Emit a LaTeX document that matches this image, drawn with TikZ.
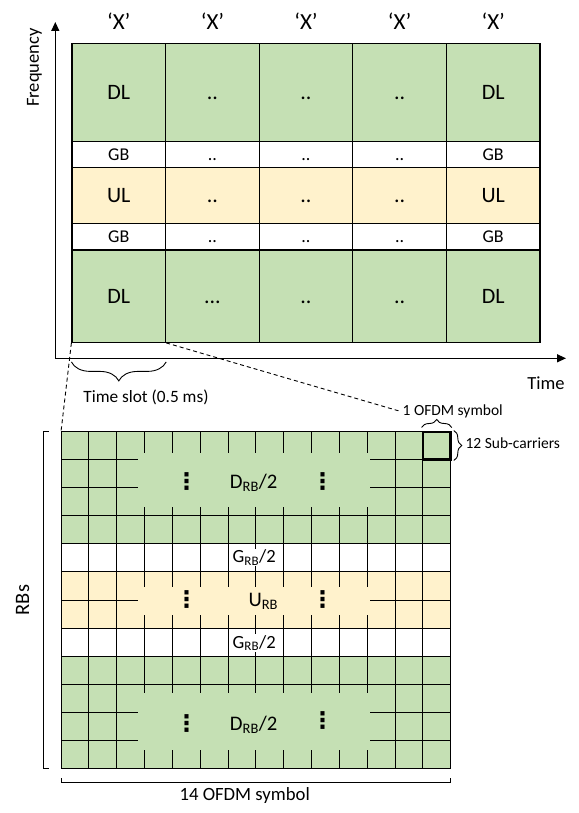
\documentclass[tikz,border=0pt]{standalone}
\usepackage{fontspec}
\setmainfont{Carlito}
\newfontfamily\dejavu{DejaVu Sans}
\usepackage{tikz}
\usetikzlibrary{positioning, calc, arrows.meta, decorations.pathreplacing}

\definecolor{dlgreen}{HTML}{C5E0B4}
\definecolor{ulyellow}{HTML}{FFF2CC}
\newcommand{\tridot}{...}

\begin{document}
\begin{tikzpicture}[
    x=1pt, y=-1pt,
    cell/.style={rectangle, draw, line width=1.2pt, minimum width=93.6pt, inner sep=0pt, font={\fontsize{22}{26}\selectfont}},
    gbcell/.style={cell, fill=white, font={\fontsize{18}{22}\selectfont}},
    xlab/.style={font={\fontsize{23}{27}\selectfont}},
    axis/.style={-{Triangle[length=9pt, width=8pt]}, line width=1.3pt},
    axlab/.style={font={\fontsize{18.5}{22}\selectfont}},
    brc/.style={decorate, decoration={brace, amplitude=#1}, line width=0.9pt},
    zoomline/.style={dashed, dash pattern=on 4pt off 3pt, line width=0.9pt},
    gridline/.style={line width=1pt},
    bracket/.style={line width=0.9pt},
    rblab/.style={font={\fontsize{20.7}{24}\selectfont}, anchor=base},
    glab/.style={font={\fontsize{18.6}{22}\selectfont}, anchor=base, fill=white, inner sep=1pt},
    vdot/.style={font={\dejavu\bfseries\fontsize{23}{26}\selectfont}, inner sep=0pt},
    small/.style={font={\fontsize{15.5}{18}\selectfont}}
]
    \useasboundingbox (0,0) rectangle (578,813);

    % frame grid (one time slot per column)
    \foreach \dl/\gb/\ul/\gc/\dm [count=\i] in {DL/GB/UL/GB/DL, ../../../../\tridot, ../../../../.., ../../../../.., DL/GB/UL/GB/DL} {
        \pgfmathsetmacro{\cx}{72+93.6*(\i-0.5)}
        \node[cell, fill=dlgreen, minimum height=98.4pt] (dlt\i) at (\cx,92.5) {\vphantom{D}\dl};
        \node[gbcell, minimum height=26pt] (gbt\i) at (\cx,154.7) {\vphantom{G}\gb};
        \node[cell, fill=ulyellow, minimum height=55.6pt] (ul\i) at (\cx,195.5) {\vphantom{U}\ul};
        \node[gbcell, minimum height=26.7pt] (gbb\i) at (\cx,236.65) {\vphantom{G}\gc};
        \node[cell, fill=dlgreen, minimum height=92.3pt] (dlb\i) at (\cx,296.15) {\vphantom{D}\dm};
        \node[xlab] (x\i) at (\cx,21.5) {‘X’};
    }

    \coordinate (orig) at (55.3,358.3);
    \coordinate (ftop) at (55.3,22);
    \coordinate (tend) at (566,358.3);
    \draw[axis] (orig) -- (ftop);
    \draw[axis] (orig) -- (tend);
    \node[axlab, rotate=90] (freq) at (34.5,67.5) {Frequency};
    \node[axlab] (time) at (546,383.5) {Time};

    \draw[brc=19pt, decoration={mirror}] ([yshift=-19pt]dlb1.south west) -- ([yshift=-19pt]dlb1.south east);
    \node[font={\fontsize{17.3}{20}\selectfont}] (slot) at (146,397.5) {Time slot (0.5 ms)};

    % resource grid of one slot
    \coordinate (gnw) at (61,431.7);
    \coordinate (gse) at (450.7,768.3);
    \fill[dlgreen] (61,431.7) rectangle (450.7,543.7);
    \fill[ulyellow] (61,571.7) rectangle (450.7,627.7);
    \fill[dlgreen] (61,656) rectangle (450.7,768.3);
    \foreach \i in {1,...,13}
        \draw[gridline] ({61+27.836*\i},431.7) -- ++(0,336.6);
    \foreach \j in {1,...,11}
        \draw[gridline] (61,{431.7+28.05*\j}) -- ++(389.7,0);
    \fill[dlgreen] (138.3,453.3) rectangle (370,507.3);
    \fill[ulyellow] (138.3,586.7) rectangle (370,615);
    \fill[dlgreen] (138.3,693.3) rectangle (370,750);
    \draw[gridline] (gnw) rectangle (gse);

    \node[rblab] (dtop) at (253.7,488.3) {D\textsubscript{RB}/2};
    \node[vdot] (vd1) at (186.7,481.7) {⋮};
    \node[vdot] (vd2) at (322.7,481.7) {⋮};
    \node[glab] (gtop) at (254.2,562.7) {G\textsubscript{RB}/2};
    \node[rblab] (urb) at (263.3,606.7) {U\textsubscript{RB}};
    \node[vdot] (vd3) at (186.7,600) {⋮};
    \node[vdot] (vd4) at (322.7,600) {⋮};
    \node[glab] (gbot) at (254.2,648.3) {G\textsubscript{RB}/2};
    \node[rblab] (dbot) at (253.7,730.7) {D\textsubscript{RB}/2};
    \node[vdot] (vd5) at (186.7,724) {⋮};
    \node[vdot] (vd6) at (322.7,721) {⋮};

    % one resource block
    \node[draw, line width=2.4pt, minimum width=27.8pt, minimum height=27.6pt, inner sep=0pt] (rb) at (436.7,445.5) {};
    \draw[brc=8pt] ([yshift=3pt]rb.north west) -- ([yshift=3pt]rb.north east);
    \draw[brc=8pt] ([xshift=2pt]rb.north east) -- ([xshift=2pt]rb.south east);
    \node[small] (sym) at (452.7,411) {1 OFDM symbol};
    \node[small, anchor=west] (sub) at (462,443.5) {12 Sub-carriers};

    \draw[zoomline] (dlb1.south west) -- (gnw);
    \draw[zoomline] (dlb1.south east) -- (sym.west);

    \draw[bracket] (48.5,431.7) -- (43.3,431.7) -- (43.3,768.3) -- (48.5,768.3);
    \node[font={\fontsize{20.5}{24}\selectfont}, rotate=90] (rbs) at (22.5,600) {RBs};
    \draw[bracket] (61,778.3) -- (61,782.7) -- (450.5,782.7) -- (450.5,778.3);
    \node[font={\fontsize{18.7}{22}\selectfont}] (nsym) at (244.7,796) {14 OFDM symbol};
\end{tikzpicture}
\end{document}
